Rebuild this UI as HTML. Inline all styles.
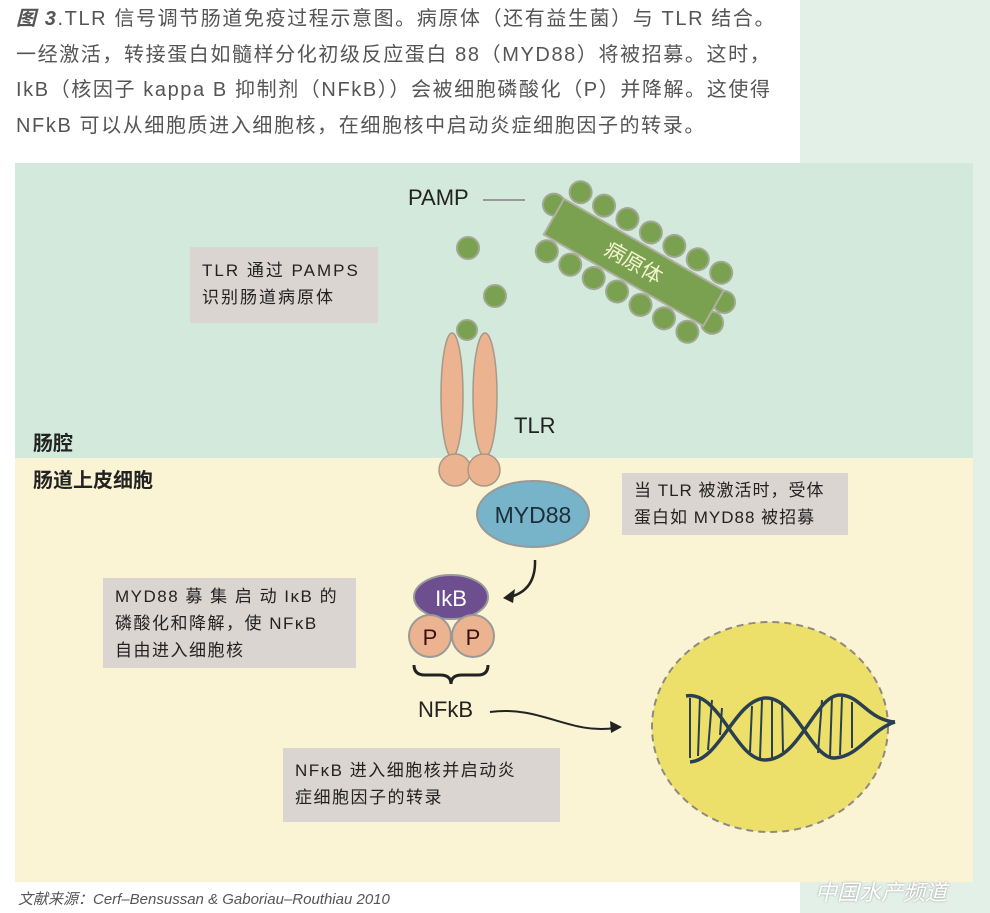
<!DOCTYPE html>
<html><head><meta charset="utf-8"><style>
body{margin:0;width:990px;height:913px;position:relative;background:#fff;overflow:hidden;font-family:"Liberation Sans","Noto Sans CJK SC",sans-serif}
.t{position:absolute;white-space:nowrap}
.box{position:absolute;background:#dbd5d2;color:#222;font-size:17px;line-height:27px;padding:10px 12px;box-sizing:border-box;letter-spacing:1px}
</style></head><body>
<div style="position:absolute;left:800px;top:0;width:190px;height:913px;background:#e3f0e8"></div>
<div style="position:absolute;left:15px;top:163px;width:958px;height:295px;background:#d3e9dc"></div>
<div style="position:absolute;left:15px;top:458px;width:958px;height:424px;background:#faf4d4"></div>
<div class="t" style="left:16px;top:2px;font-size:20px;line-height:35.5px;color:#555;letter-spacing:1.6px">
<b><i>图 3</i></b>.TLR 信号调节肠道免疫过程示意图。病原体（还有益生菌）与 TLR 结合。<br>一经激活，转接蛋白如髓样分化初级反应蛋白 88（MYD88）将被招募。这时，<br>IkB（核因子 kappa B 抑制剂（NFkB））会被细胞磷酸化（P）并降解。这使得<br>NFkB 可以从细胞质进入细胞核，在细胞核中启动炎症细胞因子的转录。</div>
<svg width="990" height="913" style="position:absolute;left:0;top:0">
<line x1="483" y1="200" x2="525" y2="200" stroke="#999" stroke-width="2"/>
<g transform="translate(634,262) rotate(29.8)" fill="#7aa150" stroke="#a0a890" stroke-width="2">
<circle cx="-81" cy="-34" r="11"/><circle cx="-54" cy="-34" r="11"/><circle cx="-27" cy="-34" r="11"/><circle cx="0" cy="-34" r="11"/><circle cx="27" cy="-34" r="11"/><circle cx="54" cy="-34" r="11"/><circle cx="81" cy="-34" r="11"/>
<circle cx="-81" cy="34" r="11"/><circle cx="-54" cy="34" r="11"/><circle cx="-27" cy="34" r="11"/><circle cx="0" cy="34" r="11"/><circle cx="27" cy="34" r="11"/><circle cx="54" cy="34" r="11"/><circle cx="81" cy="34" r="11"/>
<circle cx="-98" cy="-10" r="11"/><circle cx="98" cy="-10" r="11"/><circle cx="98" cy="14" r="11"/>
<rect x="-92" y="-20" width="184" height="41" fill="#7aa150" stroke="#b0b0a0"/>
<text x="0" y="8" font-size="21" fill="#f4f4d0" stroke="none" text-anchor="middle" font-family="Noto Sans CJK SC,sans-serif">病原体</text>
</g>
<g fill="#7aa150" stroke="#a0a890" stroke-width="2">
<circle cx="468" cy="248" r="11"/><circle cx="495" cy="296" r="11"/><circle cx="467" cy="330" r="10"/>
</g>
<g fill="#ebb38f" stroke="#a89888" stroke-width="1.5">
<ellipse cx="452" cy="395" rx="11" ry="62"/><ellipse cx="485" cy="395" rx="12" ry="62"/>
<circle cx="455" cy="470" r="16"/><circle cx="484" cy="470" r="16"/>
</g>
<ellipse cx="533" cy="514" rx="56" ry="33" fill="#77b3c9" stroke="#999" stroke-width="2"/>
<text x="533" y="523" font-size="23" fill="#1d2e3a" text-anchor="middle">MYD88</text>
<path d="M535 560 Q536 590 510 597" fill="none" stroke="#222" stroke-width="2.5"/>
<path d="M503 598 L515 589 L513 603 Z" fill="#222"/>
<ellipse cx="451" cy="597" rx="37" ry="22" fill="#6d4f8f" stroke="#999" stroke-width="2"/>
<text x="451" y="606" font-size="22" fill="#fff" text-anchor="middle">IkB</text>
<g fill="#ebb38f" stroke="#999" stroke-width="2"><circle cx="430" cy="636" r="21"/><circle cx="473" cy="636" r="21"/></g>
<text x="430" y="645" font-size="22" fill="#3a1010" text-anchor="middle">P</text>
<text x="473" y="645" font-size="22" fill="#3a1010" text-anchor="middle">P</text>
<path d="M414 665 Q414 675 425 675 L440 675 Q451 675 451 684 Q451 675 462 675 L478 675 Q488 675 488 665" fill="none" stroke="#222" stroke-width="3"/>
<path d="M490 712 C540 705 570 735 615 728" fill="none" stroke="#222" stroke-width="2"/>
<path d="M622 727 L610 721 L611 733 Z" fill="#222"/>
<ellipse cx="770" cy="727" rx="118" ry="105" fill="#ede06a" stroke="#8f8a80" stroke-width="2" stroke-dasharray="7 5"/>
<g fill="none" stroke="#2a4050" stroke-width="3.5">
<path d="M686 696 C720 690 735 760 765 760 C800 760 815 695 840 695 C860 695 868 720 895 722"/>
<path d="M690 762 C720 760 735 700 765 698 C795 696 812 760 835 758 C860 756 870 730 895 722"/>
</g>
<g stroke="#2a4050" stroke-width="2">
<line x1="690" y1="698" x2="690" y2="758"/><line x1="700" y1="697" x2="698" y2="756"/><line x1="712" y1="700" x2="708" y2="750"/><line x1="722" y1="708" x2="720" y2="735"/>
<line x1="752" y1="706" x2="750" y2="752"/><line x1="762" y1="700" x2="760" y2="758"/><line x1="772" y1="699" x2="772" y2="758"/><line x1="782" y1="702" x2="783" y2="752"/>
<line x1="822" y1="700" x2="818" y2="753"/><line x1="832" y1="696" x2="830" y2="757"/><line x1="842" y1="697" x2="840" y2="755"/><line x1="852" y1="702" x2="852" y2="748"/>
</g>
</svg>
<div class="t" style="left:408px;top:185px;font-size:22px;color:#222">PAMP</div>
<div class="t" style="left:514px;top:413px;font-size:22px;color:#222">TLR</div>
<div class="t" style="left:418px;top:697px;font-size:22px;color:#222">NFkB</div>
<div class="t" style="left:33px;top:427px;font-size:20px;font-weight:bold;color:#222">肠腔</div>
<div class="t" style="left:33px;top:464px;font-size:20px;font-weight:bold;color:#222">肠道上皮细胞</div>
<div class="box" style="left:190px;top:247px;width:188px;height:76px;letter-spacing:2px">TLR 通过 PAMPS<br>识别肠道病原体</div>
<div class="box" style="left:622px;top:473px;width:226px;height:62px;padding-top:4px">当 TLR 被激活时，受体<br>蛋白如 MYD88 被招募</div>
<div class="box" style="left:103px;top:578px;width:253px;height:90px;padding-top:5px;letter-spacing:1.5px">MYD88 募 集 启 动 IκB 的<br>磷酸化和降解，使 NFκB<br>自由进入细胞核</div>
<div class="box" style="left:283px;top:748px;width:277px;height:74px;padding-top:9px;letter-spacing:1.5px">NFκB 进入细胞核并启动炎<br>症细胞因子的转录</div>
<div class="t" style="left:18px;top:888px;font-size:15px;font-style:italic;color:#555">文献来源：Cerf–Bensussan &amp; Gaboriau–Routhiau 2010</div>
<div class="t" style="left:815px;top:875px;font-size:22px;font-style:italic;color:#fff;text-shadow:0 0 2px #999">中国水产频道</div>
</body></html>
